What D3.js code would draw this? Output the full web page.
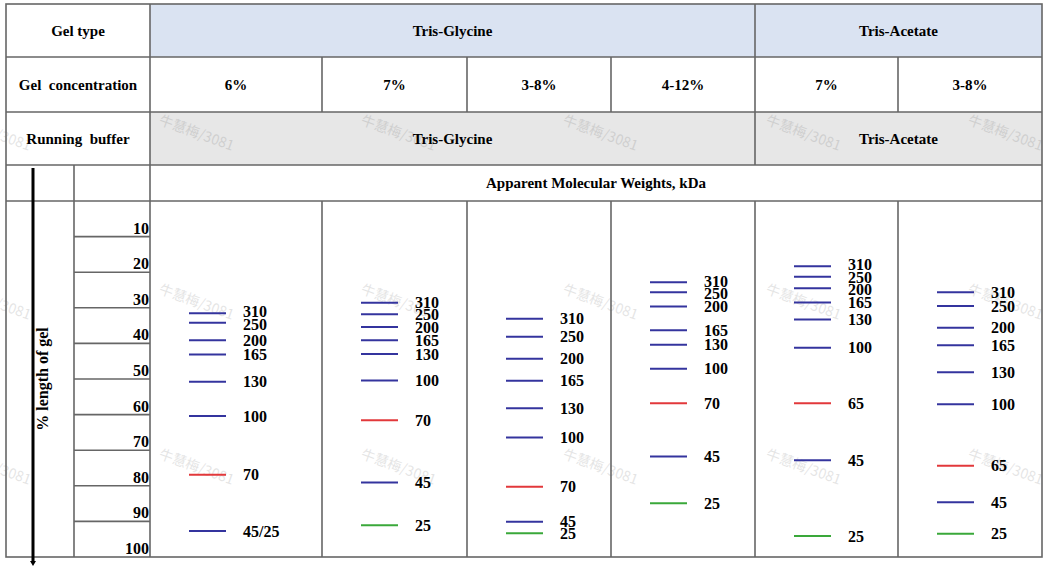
<!DOCTYPE html>
<html>
<head>
<meta charset="utf-8">
<script src="https://cdn.jsdelivr.net/npm/d3@7"></script>
<style>
body{margin:0;background:#fff;}
text{font-family:"Liberation Serif","Times New Roman",serif;font-weight:bold;font-size:15px;fill:#000;white-space:pre;}
.num{font-size:16px;}
.wm{font-family:"Noto Sans CJK SC","Noto Sans",sans-serif;font-weight:normal;font-size:14px;fill:#000;opacity:.1;}
</style>
</head>
<body>
<svg id="chart" width="1057" height="575"></svg>
<script>
// header texts
var rowTitles = ["Gel type", "Gel  concentration", "Running  buffer"];
var gelTypes = ["Tris-Glycine", "Tris-Acetate"];
var bufferNames = ["Tris-Glycine", "Tris-Acetate"];
var concentrations = ["6%", "7%", "3-8%", "4-12%", "7%", "3-8%"];
var unitTitle = "Apparent Molecular Weights, kDa";
var axisTitle = "% length of gel";
var gelTicks = [10, 20, 30, 40, 50, 60, 70, 80, 90, 100];
var watermark = "牛慧梅/3081";

// band labels (kDa) and migration (% length of gel) for each lane
var tg6Labels  = ["310", "250", "200", "165", "130", "100", "70", "45/25"];
var tg6Pos     = [31.5, 34.2, 39.1, 43.1, 50.8, 60.4, 76.9, 92.7];
var tg7Labels  = ["310", "250", "200", "165", "130", "100", "70", "45", "25"];
var tg7Pos     = [28.6, 31.8, 35.4, 39.1, 43.0, 50.4, 61.6, 79.1, 91.1];
var tg38Labels = ["310", "250", "200", "165", "130", "100", "70", "45", "25"];
var tg38Pos    = [33.1, 38.1, 44.3, 50.5, 58.2, 66.4, 80.3, 90.1, 93.3];
var tg412Labels = ["310", "250", "200", "165", "130", "100", "70", "45", "25"];
var tg412Pos    = [22.8, 25.6, 29.6, 36.3, 40.4, 47.1, 56.8, 71.8, 84.9];
var ta7Labels  = ["310", "250", "200", "165", "130", "100", "65", "45", "25"];
var ta7Pos     = [18.3, 21.3, 24.5, 28.5, 33.3, 41.2, 56.8, 72.8, 94.1];
var ta38Labels = ["310", "250", "200", "165", "130", "100", "65", "45", "25"];
var ta38Pos    = [25.6, 29.5, 35.6, 40.5, 48.1, 57.1, 74.4, 84.6, 93.5];

var laneLabels = [tg6Labels, tg7Labels, tg38Labels, tg412Labels, ta7Labels, ta38Labels];
var lanePos    = [tg6Pos, tg7Pos, tg38Pos, tg412Pos, ta7Pos, ta38Pos];

// layout
var L = 6, R = 1042, T = 4;
var rowY = [4, 57, 112, 165, 201, 557];
var firstW = 144, laneW = [172, 145, 144, 144, 143, 144];
var laneX = [L + firstW].concat(Array.from(d3.cumsum(laneW), function(d){ return L + firstW + d; }));
var subX = 74, axisX = 33;
var lineCol = "#666";

var svg = d3.select("#chart");
var y = d3.scaleLinear().domain([0, 100]).range([rowY[4], rowY[5]]);

function bandColor(lbl){
	if(lbl == "70" || lbl == "65") return "#e2383b";
	if(lbl == "25") return "#3aa83a";
	return "#34349e";
}

// row fills
svg.append("rect").attr("x", laneX[0]).attr("y", rowY[0]).attr("width", R - laneX[0]).attr("height", rowY[1] - rowY[0]).attr("fill", "#dae3f2");
svg.append("rect").attr("x", laneX[0]).attr("y", rowY[2]).attr("width", R - laneX[0]).attr("height", rowY[3] - rowY[2]).attr("fill", "#e7e7e7");

// watermarks
var wmX = [-45, 158, 360, 562, 765, 967], wmY = [124, 293, 458];
wmY.forEach(function(wy){
	svg.selectAll(null).data(wmX).enter().append("text")
		.attr("class", "wm")
		.attr("transform", function(d){ return "translate(" + d + "," + wy + ") rotate(20)"; })
		.text(watermark);
});

// grid lines
var g = svg.append("g").attr("stroke", lineCol).attr("stroke-width", 1.6).attr("fill", "none");
g.append("rect").attr("x", L).attr("y", T).attr("width", R - L).attr("height", rowY[5] - T);
[rowY[1], rowY[2], rowY[3], rowY[4]].forEach(function(yy){
	g.append("line").attr("x1", L).attr("x2", R).attr("y1", yy).attr("y2", yy);
});
g.append("line").attr("x1", laneX[0]).attr("x2", laneX[0]).attr("y1", T).attr("y2", rowY[5]);
g.append("line").attr("x1", laneX[4]).attr("x2", laneX[4]).attr("y1", T).attr("y2", rowY[3]);
g.append("line").attr("x1", laneX[4]).attr("x2", laneX[4]).attr("y1", rowY[4]).attr("y2", rowY[5]);
[1, 2, 3, 5].forEach(function(i){
	g.append("line").attr("x1", laneX[i]).attr("x2", laneX[i]).attr("y1", rowY[1]).attr("y2", rowY[2]);
	g.append("line").attr("x1", laneX[i]).attr("x2", laneX[i]).attr("y1", rowY[4]).attr("y2", rowY[5]);
});
g.append("line").attr("x1", subX).attr("x2", subX).attr("y1", rowY[3]).attr("y2", rowY[5]);
g.selectAll(null).data(gelTicks.slice(0, -1)).enter().append("line")
	.attr("x1", subX).attr("x2", laneX[0])
	.attr("y1", function(d){ return y(d); }).attr("y2", function(d){ return y(d); });

// header texts
svg.selectAll(null).data(rowTitles).enter().append("text")
	.attr("x", (L + laneX[0]) / 2)
	.attr("y", function(d, i){ return (rowY[i] + rowY[i + 1]) / 2 + 5; })
	.attr("text-anchor", "middle").text(function(d){ return d; });

var typeSpan = [[laneX[0], laneX[4]], [laneX[4], R]];
svg.selectAll(null).data(gelTypes).enter().append("text")
	.attr("x", function(d, i){ return (typeSpan[i][0] + typeSpan[i][1]) / 2; })
	.attr("y", (rowY[0] + rowY[1]) / 2 + 5)
	.attr("text-anchor", "middle").text(function(d){ return d; });
svg.selectAll(null).data(bufferNames).enter().append("text")
	.attr("x", function(d, i){ return (typeSpan[i][0] + typeSpan[i][1]) / 2; })
	.attr("y", (rowY[2] + rowY[3]) / 2 + 5)
	.attr("text-anchor", "middle").text(function(d){ return d; });
svg.selectAll(null).data(concentrations).enter().append("text")
	.attr("x", function(d, i){ return (laneX[i] + laneX[i + 1]) / 2; })
	.attr("y", (rowY[1] + rowY[2]) / 2 + 5)
	.attr("text-anchor", "middle").text(function(d){ return d; });
svg.append("text").attr("x", (laneX[0] + R) / 2).attr("y", (rowY[3] + rowY[4]) / 2 + 5)
	.attr("text-anchor", "middle").text(unitTitle);

// % length axis
svg.selectAll(null).data(gelTicks).enter().append("text")
	.attr("class", "num")
	.attr("x", laneX[0] - 1)
	.attr("y", function(d){ return y(d) - 3; })
	.attr("text-anchor", "end").text(function(d){ return d; });
svg.append("line").attr("x1", axisX).attr("x2", axisX).attr("y1", rowY[3] + 3).attr("y2", rowY[5] + 5)
	.attr("stroke", "#000").attr("stroke-width", 3);
svg.append("path").attr("d", "M" + (axisX - 3) + "," + (rowY[5] + 4) + "L" + (axisX + 3) + "," + (rowY[5] + 4) + "L" + axisX + "," + (rowY[5] + 9) + "Z").attr("fill", "#000");
svg.append("text").attr("transform", "translate(" + (axisX + 15) + "," + y(50) + ") rotate(-90)")
	.attr("text-anchor", "middle").style("font-size", "16px").text(axisTitle);

// bands
var bandOff = 39, bandW = 37, gap = 12.5;
laneLabels.forEach(function(labels, i){
	var pos = lanePos[i];
	var bands = labels.map(function(l, k){ return {label: l, p: pos[k], ly: y(pos[k])}; });
	// push crowded labels apart
	for(var it = 0; it < 50; it++){
		for(var k = 1; k < bands.length; k++){
			var d = bands[k].ly - bands[k - 1].ly;
			if(d < gap){
				bands[k - 1].ly -= (gap - d) / 2;
				bands[k].ly += (gap - d) / 2;
			}
		}
	}
	var x0 = laneX[i] + bandOff;
	var lg = svg.append("g");
	lg.selectAll("line").data(bands).enter().append("line")
		.attr("x1", x0).attr("x2", x0 + bandW)
		.attr("y1", function(d){ return y(d.p); }).attr("y2", function(d){ return y(d.p); })
		.attr("stroke", function(d){ return bandColor(d.label); })
		.attr("stroke-width", 2);
	lg.selectAll("text").data(bands).enter().append("text")
		.attr("class", "num")
		.attr("x", x0 + bandW + 17)
		.attr("y", function(d){ return d.ly; })
		.attr("dy", "0.35em")
		.text(function(d){ return d.label; });
});
</script>
</body>
</html>
